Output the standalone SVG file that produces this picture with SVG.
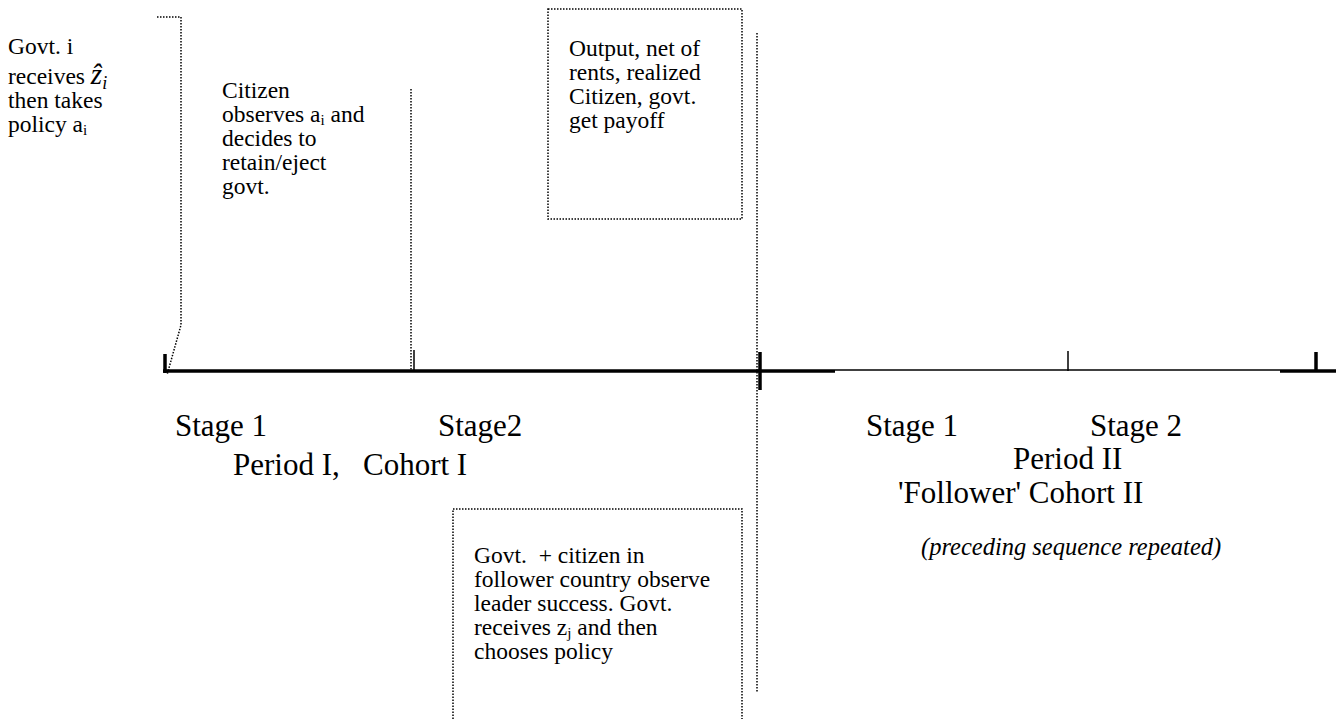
<svg xmlns="http://www.w3.org/2000/svg" width="1342" height="719" viewBox="0 0 1342 719">
<style>
text{font-family:'Liberation Serif','Times New Roman',Times,'DejaVu Serif',serif;fill:#000}
.t{font-size:23.5px}
.s{font-size:31px}
.it{font-style:italic}
.dot{fill:none;stroke:#000;stroke-width:1.5;stroke-dasharray:1.5 1.5}
.thick{stroke:#000;stroke-width:3.5;fill:none}
.thin{stroke:#000;stroke-width:1.5;fill:none}
</style>
<rect width="1342" height="719" fill="#fff"/>
<g id="connectors">
<path class="dot" d="M157,17 H181 V325 L167,375"/>
<path class="dot" d="M411,89 V370"/>
<path class="dot" d="M757,33 V692"/>
</g>
<g id="timeline">
<path class="thick" d="M163,371 H835"/>
<path class="thin" d="M835,370 H1280"/>
<path class="thick" d="M1280,371 H1336"/>
<path class="thick" d="M165,354 V373"/>
<path class="thin" d="M414,350 V371"/>
<path class="thick" d="M760,352 V390"/>
<path class="thin" d="M1068,351 V371"/>
<path class="thick" d="M1316,352 V371"/>
</g>
<g id="node-govt-i">
<text class="t" x="8" y="54">Govt. i</text>
<text class="t" x="8" y="84">receives <tspan class="it" font-size="29">ẑ</tspan><tspan class="it" font-size="18" dy="5">i</tspan></text>
<text class="t" x="8" y="108">then takes</text>
<text class="t" x="8" y="132">policy a<tspan font-size="15" dy="3">i</tspan></text>
</g>
<g id="node-citizen">
<text class="t" x="222" y="98">Citizen</text>
<text class="t" x="222" y="122">observes a<tspan font-size="15" dy="3">i</tspan><tspan dy="-3"> and</tspan></text>
<text class="t" x="222" y="146">decides to</text>
<text class="t" x="222" y="170">retain/eject</text>
<text class="t" x="222" y="194">govt.</text>
</g>
<g id="node-output">
<rect class="dot" x="548" y="9" width="194" height="210"/>
<text class="t" x="569" y="56">Output, net of</text>
<text class="t" x="569" y="80">rents, realized</text>
<text class="t" x="569" y="104">Citizen, govt.</text>
<text class="t" x="569" y="128">get payoff</text>
</g>
<g id="node-follower">
<rect class="dot" x="453" y="509" width="289" height="230"/>
<text class="t" x="474" y="563" xml:space="preserve">Govt.  + citizen in</text>
<text class="t" x="474" y="587">follower country observe</text>
<text class="t" x="474" y="611">leader success. Govt.</text>
<text class="t" x="474" y="635">receives z<tspan font-size="15" dy="2.5">j</tspan><tspan dy="-2.5"> and then</tspan></text>
<text class="t" x="474" y="659">chooses policy</text>
</g>
<g id="labels-period-1">
<text class="s" x="175" y="436">Stage 1</text>
<text class="s" x="438" y="436">Stage2</text>
<text class="s" x="233" y="475" xml:space="preserve">Period I,   Cohort I</text>
</g>
<g id="labels-period-2">
<text class="s" x="866" y="436">Stage 1</text>
<text class="s" x="1090" y="436">Stage 2</text>
<text class="s" x="1013" y="469">Period II</text>
<text class="s" x="898" y="503">'Follower' Cohort II</text>
<text class="it" font-size="24.5" x="921" y="555">(preceding sequence repeated)</text>
</g>
</svg>
